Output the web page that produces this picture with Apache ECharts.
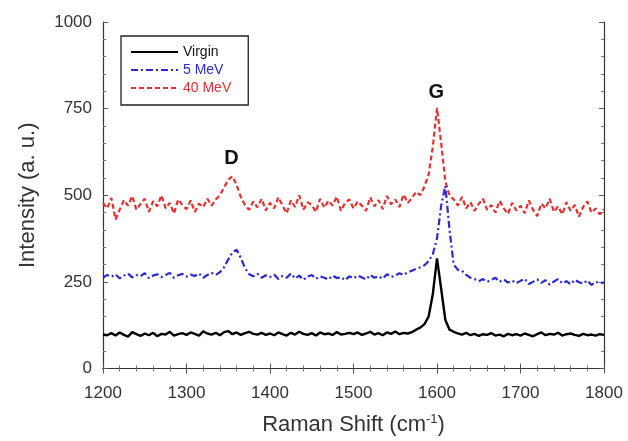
<!DOCTYPE html>
<html>
<head>
<meta charset="utf-8">
<script src="https://cdn.jsdelivr.net/npm/echarts@6/dist/echarts.min.js"></script>
<style>html,body{margin:0;padding:0;background:#fff}#c{width:628px;height:441px}</style>
</head>
<body>
<div id="c"></div>
<script>
var shift = [1200,1205,1210,1215,1220,1225,1230,1235,1240,1245,1250,1255,1260,1265,1270,1275,1280,1285,1290,1295,
1300,1305,1310,1315,1320,1325,1330,1335,1340,1345,1350,1355,1360,1365,1370,1375,1380,1385,1390,1395,
1400,1405,1410,1415,1420,1425,1430,1435,1440,1445,1450,1455,1460,1465,1470,1475,1480,1485,1490,1495,
1500,1505,1510,1515,1520,1525,1530,1535,1540,1545,1550,1555,1560,1565,1570,1575,1580,1585,1590,1595,
1600,1605,1610,1615,1620,1625,1630,1635,1640,1645,1650,1655,1660,1665,1670,1675,1680,1685,1690,1695,
1700,1705,1710,1715,1720,1725,1730,1735,1740,1745,1750,1755,1760,1765,1770,1775,1780,1785,1790,1795,1800];

var virgin = [98,96,102,95,104,97,92,105,99,94,101,96,103,93,100,98,106,95,99,102,
97,104,100,95,107,101,98,103,96,105,108,99,104,97,102,106,100,98,103,97,
101,96,104,99,95,103,98,106,100,97,102,95,104,99,101,97,105,98,100,103,
99,104,97,101,106,98,102,96,104,100,107,99,103,101,105,112,118,128,150,215,
318,230,140,112,106,101,98,103,96,100,94,99,97,102,95,98,93,100,96,99,
95,101,97,93,99,104,96,100,98,103,95,99,101,97,94,100,96,98,95,99,97];

var mev5 = [262,270,265,272,260,268,274,263,270,266,275,261,268,272,264,270,276,262,269,273,
265,271,267,274,262,270,276,270,278,292,315,335,343,320,290,272,266,273,262,269,
264,271,258,267,262,274,260,268,256,265,270,259,266,262,257,268,261,264,255,266,
260,268,263,257,270,262,266,259,272,264,268,275,270,278,282,288,292,298,310,330,
375,470,527,400,300,285,282,270,262,258,252,258,250,256,262,250,257,248,254,246,
253,259,244,250,257,247,255,242,251,258,246,252,243,256,249,245,254,241,250,247,248];

var mev40 = [478,462,492,430,458,486,470,498,458,475,490,452,483,468,500,462,478,447,488,472,
460,485,452,476,466,490,470,488,500,522,545,555,530,495,472,458,482,465,490,456,
478,462,494,470,448,485,466,500,458,480,472,452,490,464,484,470,496,455,478,488,
462,482,470,455,494,468,486,460,498,474,488,466,502,478,492,510,500,525,560,640,
752,650,540,500,488,470,495,462,480,455,475,490,458,472,450,484,462,446,478,456,
470,448,485,458,440,476,462,490,452,468,445,480,455,472,438,466,482,450,462,445,460];

var seriesNames = ['Virgin', '5 MeV', '40 MeV'];
var xTicks = [1200, 1300, 1400, 1500, 1600, 1700, 1800];
var yTicks = [0, 250, 500, 750, 1000];
var peakLabels = ['D', 'G'];
var peakPos = [[1354, 607], [1599, 798]];

function pairs(xs, ys) { return xs.map(function (x, i) { return [x, ys[i]]; }); }

var FONT = 'Liberation Sans, Arial, sans-serif';
var chart = echarts.init(document.getElementById('c'), null, {renderer: 'canvas'});

var axisCommon = {
  axisLine: {show: true, lineStyle: {color: '#333', width: 1.2}},
  axisTick: {show: true, inside: true, length: 5, lineStyle: {color: '#555'}},
  minorTick: {show: true, splitNumber: 5, length: 3, lineStyle: {color: '#777'}},
  splitLine: {show: false}
};
function plain(v) { return String(v); }

chart.setOption({
  animation: false,
  backgroundColor: '#fff',
  grid: {left: 103, right: 24, top: 22, bottom: 68},
  legend: {
    orient: 'vertical', left: 121, top: 36,
    padding: [9, 17, 10, 9],
    itemWidth: 47, itemHeight: 14, itemGap: 4,
    borderColor: '#222', borderWidth: 1.3,
    itemStyle: {opacity: 0},
    textStyle: {fontFamily: FONT, fontSize: 14},
    data: [
      {name: seriesNames[0], textStyle: {color: '#111'}},
      {name: seriesNames[1], textStyle: {color: '#2a2ad0'}},
      {name: seriesNames[2], textStyle: {color: '#e53030'}}
    ]
  },
  xAxis: [
    Object.assign({
      type: 'value', min: xTicks[0], max: xTicks[xTicks.length - 1], interval: 100,
      name: 'Raman Shift (cm{sup|-1})', nameLocation: 'middle', nameGap: 44,
      nameTextStyle: {fontFamily: FONT, fontSize: 22, color: '#333',
        rich: {sup: {fontFamily: FONT, fontSize: 13, color: '#333', verticalAlign: 'top', padding: [0, 0, 12, 0]}}},
      axisLabel: {fontFamily: FONT, fontSize: 17, color: '#333', margin: 16, formatter: plain}
    }, axisCommon),
    Object.assign({
      type: 'value', position: 'top', min: xTicks[0], max: xTicks[xTicks.length - 1], interval: 100,
      axisLabel: {show: false}
    }, axisCommon)
  ],
  yAxis: [
    Object.assign({
      type: 'value', min: yTicks[0], max: yTicks[yTicks.length - 1], interval: 250,
      name: 'Intensity (a. u.)', nameLocation: 'middle', nameGap: 64,
      nameTextStyle: {fontFamily: FONT, fontSize: 22, color: '#333'},
      axisLabel: {fontFamily: FONT, fontSize: 17, color: '#333', margin: 11, formatter: plain}
    }, axisCommon),
    Object.assign({
      type: 'value', position: 'right', min: yTicks[0], max: yTicks[yTicks.length - 1], interval: 250,
      axisLabel: {show: false}
    }, axisCommon)
  ],
  series: [
    {
      name: seriesNames[0], type: 'line', symbol: 'none', data: pairs(shift, virgin),
      lineStyle: {color: '#000', width: 2.4, type: 'solid'}, itemStyle: {color: '#000'}, z: 3
    },
    {
      name: seriesNames[1], type: 'line', symbol: 'none', data: pairs(shift, mev5),
      lineStyle: {color: '#2a2ad0', width: 2.2, type: [7, 3, 2, 3]}, itemStyle: {color: '#2a2ad0'}, z: 2
    },
    {
      name: seriesNames[2], type: 'line', symbol: 'none', data: pairs(shift, mev40),
      lineStyle: {color: '#e53030', width: 2.2, type: [5, 3]}, itemStyle: {color: '#e53030'}, z: 1,
      markPoint: {
        symbol: 'circle', symbolSize: 0, silent: true,
        label: {show: true, formatter: '{b}', fontFamily: FONT, fontSize: 20, fontWeight: 'bold', color: '#111', position: 'inside'},
        data: peakLabels.map(function (n, i) { return {name: n, coord: peakPos[i]}; })
      }
    }
  ]
});
</script>
</body>
</html>
